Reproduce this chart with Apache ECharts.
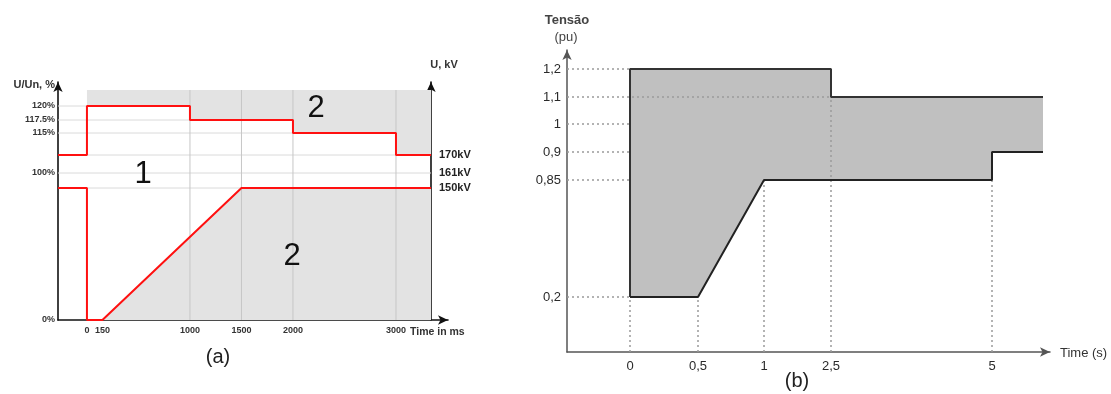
<!DOCTYPE html>
<html>
<head>
<meta charset="utf-8">
<script src="https://cdn.jsdelivr.net/npm/echarts@6/dist/echarts.min.js"></script>
<style>
  html, body { margin: 0; padding: 0; background: #fff; }
  #chart { width: 1111px; height: 394px; }
</style>
</head>
<body>
<div id="chart"></div>
<script>
// ---------- (a) voltage envelope, time in ms ----------
// the drawing is not to scale on U, so levels sit on a schematic height
const aTimeTicks = [0, 150, 1000, 1500, 2000, 3000];
const aLeftTicks = ['0%', '100%', '115%', '117.5%', '120%'];
const aLeftPos = [0, 147, 187, 200, 214];
const aRightTicks = ['150kV', '161kV', '170kV'];
const aRightPos = [132, 147, 165];
const aGrayTop = 230;
const aStart = -281, aEnd = 3340;     // left / right axis, ms

const aUpperT = [aStart, 0, 0, 1000, 1000, 2000, 2000, 3000, 3000, aEnd];
const aUpperU = ['170kV', '170kV', '120%', '120%', '117.5%', '117.5%', '115%', '115%', '170kV', '170kV'];
const aLowerT = [aStart, 0, 0, 150, 1500, aEnd];
const aLowerU = ['150kV', '150kV', '0%', '0%', '150kV', '150kV'];

// ---------- (b) Tensão (pu) vs time (s) ----------
const bTimeTicks = ['0', '0,5', '1', '2,5', '5'];
const bTimeVals = [0, 0.5, 1, 2.5, 5];
const bTimePos = [63, 131, 197, 264, 425];
const bTimeEndPos = 476;
const bVoltTicks = ['0,2', '0,85', '0,9', '1', '1,1', '1,2'];
const bVoltVals = [0.2, 0.85, 0.9, 1, 1.1, 1.2];
const bVoltPos = [55, 172, 200, 228, 255, 283];

const bUpperT = [0, 0, 2.5, 2.5, 'end'];
const bUpperU = [0.2, 1.2, 1.2, 1.1, 1.1];
const bLowerT = [0, 0.5, 1, 5, 5, 'end'];
const bLowerU = [0.2, 0.2, 0.85, 0.85, 0.9, 0.9];
// dotted guides: each tick runs to the envelope
const bGuideVolt = [0.2, 0.85, 0.9, 1, 1.1, 1.2];
const bGuideVoltTo = [0, 0, 0, 0, 2.5, 0];
const bGuideTime = [0, 0.5, 1, 2.5, 5];
const bGuideTimeTo = [0.2, 0.2, 0.85, 1.1, 0.85];

const aLevel = u => {
  let i = aLeftTicks.indexOf(u);
  return i >= 0 ? aLeftPos[i] : aRightPos[aRightTicks.indexOf(u)];
};
const bT = t => t === 'end' ? bTimeEndPos : bTimePos[bTimeVals.indexOf(t)];
const bU = u => bVoltPos[bVoltVals.indexOf(u)];

const aUpper = aUpperT.map((t, i) => [t, aLevel(aUpperU[i])]);
const aLower = aLowerT.map((t, i) => [t, aLevel(aLowerU[i])]);
const bUpper = bUpperT.map((t, i) => [bT(t), bU(bUpperU[i])]);
const bLower = bLowerT.map((t, i) => [bT(t), bU(bLowerU[i])]);

const FONT = 'Liberation Sans';

function polySeries(xi, yi, pts, style, z) {
  return {
    type: 'custom', xAxisIndex: xi, yAxisIndex: yi, z: z, silent: true, clip: false,
    data: [pts[0]],
    renderItem: (params, api) => ({
      type: 'polygon',
      shape: { points: pts.map(p => api.coord(p)) },
      style: style
    })
  };
}
function segSeries(xi, yi, segs, style, z) {
  return {
    type: 'custom', xAxisIndex: xi, yAxisIndex: yi, z: z, silent: true, clip: false,
    data: segs,
    encode: { x: [0, 2], y: [1, 3] },
    renderItem: (params, api) => {
      const p1 = api.coord([api.value(0), api.value(1)]);
      const p2 = api.coord([api.value(2), api.value(3)]);
      return { type: 'line', shape: { x1: p1[0], y1: p1[1], x2: p2[0], y2: p2[1] }, style: style };
    }
  };
}
function lineSeries(xi, yi, data, color, width, z) {
  return {
    type: 'line', xAxisIndex: xi, yAxisIndex: yi, z: z, silent: true, data: data,
    symbol: 'none', lineStyle: { color: color, width: width }, clip: false
  };
}
function label(x, y, text, font, color, align) {
  return { type: 'text', x: x, y: y, z: 100, silent: true,
    style: { text: text, font: font, fill: color, align: align || 'center', verticalAlign: 'middle' } };
}

// gray zones in (a)
const aUpperZone = aUpper.filter(p => p[0] >= 0).concat([[aEnd, aGrayTop], [0, aGrayTop]]);
const aLowerZone = aLower.filter(p => p[0] >= 0).concat([[aEnd, 0], [0, 0]]);
const aHGrid = aRightPos.concat(aLeftPos.slice(2)).map(y => [aStart, y, aEnd, y]);
const aVGrid = [1000, 1500, 2000, 3000].map(x => [x, 0, x, aGrayTop]);

// (b) zone and guides
const bZone = bUpper.concat(bLower.slice().reverse());
const bGuides = bGuideVolt.map((u, i) => [0, bU(u), bT(bGuideVoltTo[i]), bU(u)])
  .concat(bGuideTime.map((t, i) => [bT(t), 0, bT(t), bU(bGuideTimeTo[i])]));

const axisA = { show: true, onZero: false, symbol: ['none', 'arrow'], symbolSize: [7, 10], lineStyle: { color: '#111', width: 1.6 } };
const axisB = { show: true, onZero: false, symbol: ['none', 'arrow'], symbolSize: [7, 10], lineStyle: { color: '#555', width: 1.5 } };

const chart = echarts.init(document.getElementById('chart'));
chart.setOption({
  animation: false,
  backgroundColor: '#fff',
  grid: [
    { left: 58, top: 82, right: 663, bottom: 74 },
    { left: 567, top: 50, right: 61, bottom: 42 }
  ],
  xAxis: [
    {
      gridIndex: 0, type: 'value', min: -281, max: 3505,
      axisLine: axisA, axisTick: { show: false }, splitLine: { show: false },
      axisLabel: { customValues: aTimeTicks, formatter: v => String(v), fontSize: 9, fontWeight: 'bold', color: '#333', margin: 6, fontFamily: FONT }
    },
    {
      gridIndex: 1, type: 'value', min: 0, max: 483,
      axisLine: axisB, axisTick: { show: false }, splitLine: { show: false },
      axisLabel: { customValues: bTimePos, formatter: v => bTimeTicks[bTimePos.indexOf(v)], fontSize: 13, color: '#2a2a2a', margin: 8, fontFamily: FONT }
    }
  ],
  yAxis: [
    {
      gridIndex: 0, type: 'value', min: 0, max: 238, position: 'left',
      axisLine: axisA, axisTick: { show: false }, splitLine: { show: false },
      axisLabel: { customValues: aLeftPos, formatter: v => aLeftTicks[aLeftPos.indexOf(v)], fontSize: 9, fontWeight: 'bold', color: '#333', margin: 3, fontFamily: FONT }
    },
    {
      gridIndex: 0, type: 'value', min: 0, max: 238, position: 'right', offset: -17,
      axisLine: axisA, axisTick: { show: false }, splitLine: { show: false },
      axisLabel: { customValues: aRightPos, formatter: v => aRightTicks[aRightPos.indexOf(v)], fontSize: 11, fontWeight: 'bold', color: '#222', margin: 8, fontFamily: FONT }
    },
    {
      gridIndex: 1, type: 'value', min: 0, max: 302,
      axisLine: axisB, axisTick: { show: false }, splitLine: { show: false },
      axisLabel: { customValues: bVoltPos, formatter: v => bVoltTicks[bVoltPos.indexOf(v)], fontSize: 13, color: '#2a2a2a', margin: 6, fontFamily: FONT }
    }
  ],
  series: [
    segSeries(0, 0, aHGrid, { stroke: '#dadada', lineWidth: 1 }, 1),
    polySeries(0, 0, aUpperZone, { fill: '#e3e3e3' }, 2),
    polySeries(0, 0, aLowerZone, { fill: '#e3e3e3' }, 2),
    segSeries(0, 0, aVGrid, { stroke: '#c6c6c6', lineWidth: 1 }, 3),
    lineSeries(0, 0, aUpper, '#ff1010', 2, 5),
    lineSeries(0, 0, aLower, '#ff1010', 2, 5),

    polySeries(1, 2, bZone, { fill: '#c0c0c0' }, 2),
    segSeries(1, 2, bGuides, { stroke: '#9a9a9a', lineWidth: 1.5, lineDash: [2, 3] }, 3),
    lineSeries(1, 2, bUpper, '#333', 2, 5),
    lineSeries(1, 2, bLower, '#222', 2, 5)
  ],
  graphic: [
    label(55, 85, 'U/Un, %', 'bold 11px ' + FONT, '#333', 'right'),
    label(444, 65, 'U, kV', 'bold 11px ' + FONT, '#333'),
    label(410, 332, 'Time in ms', 'bold 10.5px ' + FONT, '#333', 'left'),
    label(143, 174, '1', '31px ' + FONT, '#111'),
    label(316, 108, '2', '31px ' + FONT, '#111'),
    label(292, 256, '2', '31px ' + FONT, '#111'),
    label(218, 357, '(a)', '20px ' + FONT, '#222'),
    label(567, 20, 'Tensão', 'bold 13px ' + FONT, '#444'),
    label(566, 37, '(pu)', '13px ' + FONT, '#444'),
    label(1060, 353, 'Time (s)', '13px ' + FONT, '#333', 'left'),
    label(797, 381, '(b)', '20px ' + FONT, '#222')
  ]
});
</script>
</body>
</html>
